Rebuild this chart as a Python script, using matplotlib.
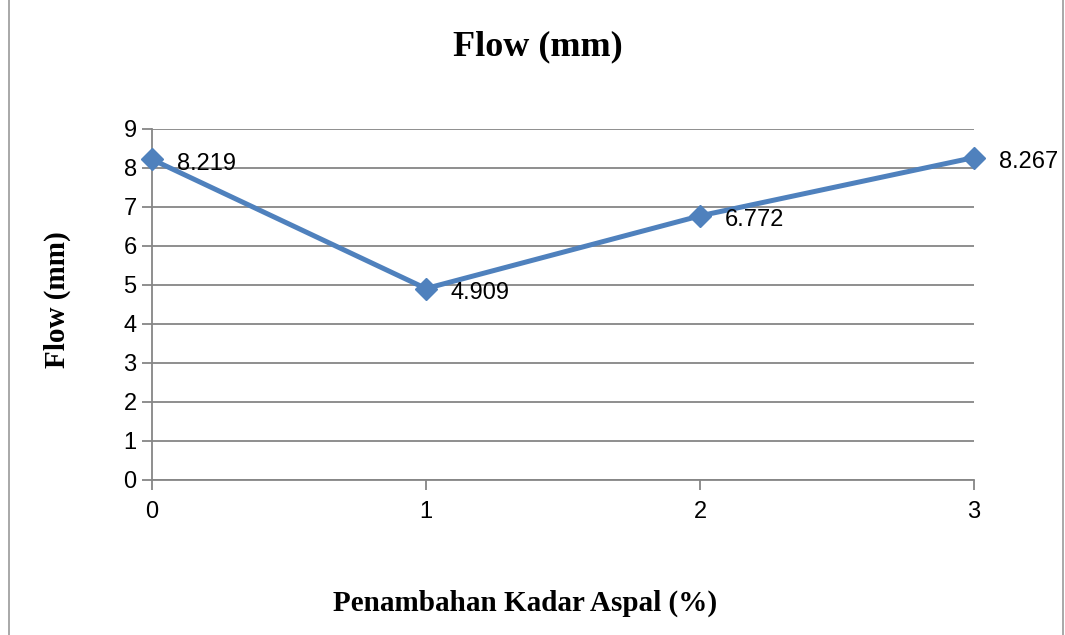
import numpy as np
import matplotlib.pyplot as plt
from matplotlib.patches import Rectangle

# data
kadar = [0, 1, 2, 3]
flow = [8.219, 4.909, 6.772, 8.267]
labels = ['8.219', '4.909', '6.772', '8.267']
y_ticks = list(range(0, 10))

fig = plt.figure(figsize=(10.65, 6.35), dpi=100)
ax = fig.add_axes([0.1427, 0.2441, 0.7718, 0.5528])

ax.plot(kadar, flow, color='#4F81BD', linewidth=3.6, marker='D',
        markersize=11, markerfacecolor='#4F81BD', markeredgecolor='#4F81BD',
        zorder=3, clip_on=False)

for x, y, s in zip(kadar, flow, labels):
    ax.annotate(s, (x, y), xytext=(18, -3), textcoords='offset points',
                ha='left', va='center', fontsize=17, family='Liberation Sans')

ax.set_xlim(0, 3)
ax.set_ylim(0, 9)
ax.set_xticks(kadar)
ax.set_yticks(y_ticks)
ax.grid(axis='y', color='#868686', linewidth=1.3)
ax.set_axisbelow(True)
for side in ['top', 'right']:
    ax.spines[side].set_visible(False)
for side in ['left', 'bottom']:
    ax.spines[side].set_color('#868686')
    ax.spines[side].set_linewidth(1.3)
ax.tick_params(axis='both', colors='#868686', length=7, width=1.3,
               labelcolor='black', labelsize=17)
ax.tick_params(axis='x', pad=8)
ax.tick_params(axis='y', pad=4)
for lab in ax.get_xticklabels() + ax.get_yticklabels():
    lab.set_family('Liberation Sans')

fig.text(0.505, 0.926, 'Flow (mm)', ha='center', va='center',
         fontsize=26, fontweight='bold', family='Liberation Serif')
fig.text(0.054, 0.528, 'Flow (mm)', ha='center', va='center', rotation=90,
         fontsize=21, fontweight='bold', family='Liberation Serif')
fig.text(0.493, 0.05, 'Penambahan Kadar Aspal (%)', ha='center', va='center',
         fontsize=21, fontweight='bold', family='Liberation Serif')

fig.patches.append(Rectangle((0.008, -0.01), 0.99, 1.02, transform=fig.transFigure,
                             fill=False, edgecolor='#9a9a9a', linewidth=1.2))

fig.savefig('out.png', dpi=100)
